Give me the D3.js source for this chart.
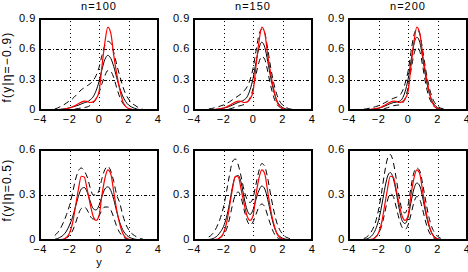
<!DOCTYPE html>
<html lang="en">
    <head>
        <meta charset="UTF-8">
        <style>
            html, body{ margin: 0; padding: 0; background: #fff; }
            svg text{ font-family: 'Liberation Sans', Arial, sans-serif; font-size: 11px; fill: #000; }
            .tick{ letter-spacing: 0.6px; }
            .title{ letter-spacing: 1px; }
            .rowlabel{ font-size: 12px; letter-spacing: 1.2px; }
        </style>
    </head>
    <body>
        <svg id="chart" width="468" height="272"></svg>
        <script src="https://d3js.org/d3.v7.min.js"></script>
        <script>
            // ---- data ----
            const yGrid = [-3, -2.8, -2.6, -2.4, -2.2, -2, -1.8, -1.6, -1.4, -1.2, -1, -0.8, -0.6, -0.4, -0.2, 0,
                           0.2, 0.4, 0.6, 0.8, 1, 1.2, 1.4, 1.6, 1.8, 2, 2.2, 2.4, 2.6, 2.8, 3]
            const sampleSizes = ['n=100', 'n=150', 'n=200']
            const rowLabels = ['f(y|\u03b7=\u22120.9)', 'f(y|\u03b7=0.5)']
            const xTicks = [-4, -2, 0, 2, 4]
            const yTicksTop = [0, 0.3, 0.6, 0.9]
            const yTicksBottom = [0, 0.3, 0.6]

            // true density, eta = -0.9
            const trueTop = [0, 0.002, 0.004, 0.008, 0.013, 0.02, 0.03, 0.045, 0.062, 0.078, 0.088, 0.085, 0.074, 0.08, 0.11, 0.18,
                             0.43, 0.67, 0.82, 0.76, 0.54, 0.36, 0.21, 0.09, 0.036, 0.015, 0.006, 0.003, 0.001, 0, 0]
            // true density, eta = 0.5
            const trueBottom = [0, 0.001, 0.002, 0.006, 0.018, 0.047, 0.11, 0.22, 0.335, 0.425, 0.42, 0.335, 0.24, 0.16, 0.13, 0.16,
                                0.3, 0.41, 0.467, 0.44, 0.32, 0.2, 0.11, 0.047, 0.018, 0.006, 0.002, 0.001, 0, 0, 0]

            // estimates (mean) and pointwise bands, top row
            const meanTop100 = [0.002, 0.004, 0.007, 0.01, 0.015, 0.022, 0.03, 0.038, 0.047, 0.06, 0.072, 0.08, 0.1, 0.13, 0.19, 0.28,
                                0.4, 0.5, 0.54, 0.51, 0.43, 0.32, 0.22, 0.14, 0.085, 0.05, 0.03, 0.017, 0.008, 0.003, 0.001]
            const upperTop100 = [0.01, 0.02, 0.035, 0.05, 0.07, 0.09, 0.11, 0.14, 0.17, 0.2, 0.22, 0.24, 0.26, 0.29, 0.34, 0.42,
                                 0.54, 0.64, 0.68, 0.66, 0.57, 0.45, 0.34, 0.24, 0.16, 0.11, 0.07, 0.05, 0.03, 0.015, 0.005]
            const lowerTop100 = [0, 0, 0, 0.001, 0.002, 0.004, 0.007, 0.01, 0.015, 0.02, 0.025, 0.03, 0.045, 0.07, 0.11, 0.17,
                                 0.26, 0.34, 0.39, 0.38, 0.32, 0.22, 0.13, 0.07, 0.035, 0.015, 0.007, 0.003, 0.001, 0, 0]
            const meanTop150 = [0.001, 0.003, 0.005, 0.008, 0.012, 0.018, 0.025, 0.035, 0.048, 0.062, 0.075, 0.085, 0.1, 0.13, 0.2, 0.31,
                                0.47, 0.61, 0.67, 0.62, 0.48, 0.32, 0.19, 0.1, 0.05, 0.025, 0.012, 0.006, 0.003, 0.001, 0]
            const upperTop150 = [0.01, 0.015, 0.022, 0.03, 0.04, 0.05, 0.065, 0.08, 0.1, 0.12, 0.14, 0.16, 0.19, 0.23, 0.3, 0.41,
                                 0.58, 0.74, 0.8, 0.76, 0.6, 0.42, 0.27, 0.16, 0.09, 0.05, 0.03, 0.015, 0.008, 0.004, 0.002]
            const lowerTop150 = [0, 0, 0, 0, 0.001, 0.002, 0.005, 0.01, 0.018, 0.028, 0.038, 0.045, 0.055, 0.075, 0.12, 0.21,
                                 0.35, 0.47, 0.53, 0.5, 0.38, 0.24, 0.13, 0.06, 0.03, 0.012, 0.005, 0.002, 0.001, 0, 0]
            const meanTop200 = [0.001, 0.002, 0.004, 0.007, 0.011, 0.017, 0.025, 0.037, 0.05, 0.063, 0.073, 0.078, 0.085, 0.11, 0.18, 0.3,
                                0.48, 0.65, 0.72, 0.67, 0.51, 0.33, 0.19, 0.1, 0.05, 0.024, 0.011, 0.005, 0.002, 0.001, 0]
            const upperTop200 = [0.008, 0.012, 0.018, 0.025, 0.033, 0.043, 0.055, 0.07, 0.085, 0.1, 0.115, 0.125, 0.14, 0.18, 0.26, 0.38,
                                 0.57, 0.74, 0.8, 0.75, 0.59, 0.4, 0.25, 0.14, 0.075, 0.04, 0.02, 0.01, 0.005, 0.002, 0.001]
            const lowerTop200 = [0, 0, 0, 0.001, 0.002, 0.004, 0.008, 0.014, 0.022, 0.032, 0.042, 0.047, 0.05, 0.065, 0.11, 0.22,
                                 0.39, 0.55, 0.62, 0.58, 0.43, 0.26, 0.14, 0.07, 0.03, 0.013, 0.005, 0.002, 0.001, 0, 0]

            // bottom row
            const meanBot100 = [0.004, 0.01, 0.02, 0.035, 0.06, 0.1, 0.15, 0.22, 0.29, 0.34, 0.35, 0.32, 0.26, 0.21, 0.2, 0.23,
                                0.29, 0.34, 0.355, 0.33, 0.27, 0.19, 0.12, 0.07, 0.04, 0.022, 0.012, 0.006, 0.003, 0.001, 0]
            const upperBot100 = [0.03, 0.05, 0.08, 0.12, 0.17, 0.23, 0.31, 0.4, 0.46, 0.48, 0.46, 0.42, 0.35, 0.3, 0.3, 0.33,
                                 0.41, 0.47, 0.49, 0.46, 0.39, 0.3, 0.25, 0.17, 0.11, 0.07, 0.045, 0.03, 0.018, 0.01, 0.005]
            const lowerBot100 = [0, 0.001, 0.003, 0.007, 0.015, 0.03, 0.06, 0.11, 0.17, 0.21, 0.22, 0.2, 0.16, 0.14, 0.14, 0.16,
                                 0.2, 0.22, 0.22, 0.2, 0.15, 0.09, 0.05, 0.025, 0.01, 0.004, 0.002, 0.001, 0, 0, 0]
            const meanBot150 = [0.003, 0.007, 0.015, 0.03, 0.055, 0.09, 0.15, 0.24, 0.35, 0.42, 0.43, 0.38, 0.28, 0.2, 0.17, 0.2,
                                0.27, 0.33, 0.36, 0.34, 0.27, 0.18, 0.1, 0.05, 0.025, 0.012, 0.006, 0.003, 0.001, 0, 0]
            const upperBot150 = [0.02, 0.035, 0.06, 0.1, 0.15, 0.22, 0.32, 0.43, 0.52, 0.54, 0.5, 0.42, 0.33, 0.27, 0.25, 0.28,
                                 0.37, 0.46, 0.51, 0.49, 0.41, 0.3, 0.2, 0.12, 0.07, 0.04, 0.022, 0.012, 0.006, 0.003, 0.001]
            const lowerBot150 = [0, 0.001, 0.003, 0.008, 0.018, 0.035, 0.07, 0.14, 0.23, 0.3, 0.32, 0.28, 0.2, 0.13, 0.1, 0.12,
                                 0.17, 0.22, 0.24, 0.22, 0.16, 0.1, 0.05, 0.02, 0.008, 0.003, 0.001, 0, 0, 0, 0]
            const meanBot200 = [0.003, 0.007, 0.016, 0.035, 0.07, 0.13, 0.22, 0.33, 0.42, 0.45, 0.41, 0.32, 0.21, 0.13, 0.11, 0.15,
                                0.25, 0.34, 0.38, 0.36, 0.28, 0.18, 0.1, 0.05, 0.022, 0.009, 0.004, 0.002, 0.001, 0, 0]
            const upperBot200 = [0.01, 0.02, 0.04, 0.07, 0.12, 0.2, 0.31, 0.44, 0.54, 0.57, 0.52, 0.41, 0.29, 0.2, 0.18, 0.23,
                                 0.35, 0.45, 0.48, 0.46, 0.37, 0.26, 0.16, 0.09, 0.05, 0.025, 0.012, 0.006, 0.003, 0.001, 0]
            const lowerBot200 = [0, 0.001, 0.003, 0.008, 0.02, 0.045, 0.09, 0.17, 0.26, 0.31, 0.29, 0.22, 0.14, 0.085, 0.07, 0.1,
                                 0.17, 0.25, 0.29, 0.27, 0.2, 0.12, 0.06, 0.025, 0.01, 0.004, 0.001, 0, 0, 0, 0]

            // ---- layout ----
            const colLeft = [40, 194, 349]
            const colWidth = 118
            const rowTop = [19, 150]
            const rowHeight = [91, 90]
            const labelCenter = [67, 190]

            const rows = [
                { label: rowLabels[0], yMax: 0.9, ticks: yTicksTop, truth: trueTop,
                  panels: [[meanTop100, upperTop100, lowerTop100], [meanTop150, upperTop150, lowerTop150], [meanTop200, upperTop200, lowerTop200]] },
                { label: rowLabels[1], yMax: 0.6, ticks: yTicksBottom, truth: trueBottom,
                  panels: [[meanBot100, upperBot100, lowerBot100], [meanBot150, upperBot150, lowerBot150], [meanBot200, upperBot200, lowerBot200]] }
            ]

            const svg = d3.select('#chart')
            const defs = svg.append('defs')

            rows.forEach((row, r) => {
                sampleSizes.forEach((title, c) => {
                    const x = d3.scaleLinear().domain([-4, 4]).range([colLeft[c], colLeft[c] + colWidth])
                    const y = d3.scaleLinear().domain([0, row.yMax]).range([rowTop[r] + rowHeight[r], rowTop[r]])
                    const g = svg.append('g')
                    const clipId = 'clip-' + r + '-' + c
                    defs.append('clipPath').attr('id', clipId).append('rect')
                        .attr('x', x(-4)).attr('y', y(row.yMax))
                        .attr('width', x(4) - x(-4)).attr('height', y(0) - y(row.yMax))

                    // grid
                    g.selectAll('.vgrid').data(xTicks.slice(1, -1)).join('line')
                        .attr('x1', d => Math.round(x(d)) + 0.5).attr('x2', d => Math.round(x(d)) + 0.5)
                        .attr('y1', y(0)).attr('y2', y(row.yMax))
                        .attr('stroke', '#000').attr('stroke-width', 1).attr('stroke-dasharray', '1,3')
                    g.selectAll('.hgrid').data(row.ticks.slice(1, -1)).join('line')
                        .attr('x1', x(-4)).attr('x2', x(4))
                        .attr('y1', d => Math.round(y(d)) + 0.5).attr('y2', d => Math.round(y(d)) + 0.5)
                        .attr('stroke', '#000').attr('stroke-width', 1).attr('stroke-dasharray', '3,2,1,2')

                    // curves
                    const line = d3.line()
                        .x((d, i) => x(yGrid[i]))
                        .y(d => y(d))
                        .curve(d3.curveMonotoneX)
                    const curves = g.append('g').attr('clip-path', 'url(#' + clipId + ')')
                    const [mean, upper, lower] = row.panels[c]
                    curves.append('path').attr('d', line(upper))
                        .attr('fill', 'none').attr('stroke', '#000').attr('stroke-width', 1).attr('stroke-dasharray', '6,4')
                    curves.append('path').attr('d', line(lower))
                        .attr('fill', 'none').attr('stroke', '#000').attr('stroke-width', 1).attr('stroke-dasharray', '6,4')
                    curves.append('path').attr('d', line(mean))
                        .attr('fill', 'none').attr('stroke', '#000').attr('stroke-width', 1)
                    curves.append('path').attr('d', line(row.truth))
                        .attr('fill', 'none').attr('stroke', '#f00').attr('stroke-width', 1.2)

                    // box
                    g.append('rect')
                        .attr('x', x(-4)).attr('y', y(row.yMax))
                        .attr('width', x(4) - x(-4)).attr('height', y(0) - y(row.yMax))
                        .attr('fill', 'none').attr('stroke', '#000').attr('stroke-width', 2)

                    // tick labels
                    g.selectAll('.xt').data(xTicks).join('text')
                        .attr('class', 'tick')
                        .attr('x', d => x(d)).attr('y', y(0) + 13)
                        .attr('text-anchor', 'middle')
                        .text(d => d < 0 ? '\u2212' + Math.abs(d) : d)
                    g.selectAll('.yt').data(row.ticks).join('text')
                        .attr('class', 'tick')
                        .attr('x', x(-4) - 4).attr('y', d => y(d) + 3)
                        .attr('text-anchor', 'end')
                        .text(d => d)

                    if (r === 0) {
                        g.append('text').attr('class', 'title')
                            .attr('x', (x(-4) + x(4)) / 2).attr('y', 10)
                            .attr('text-anchor', 'middle').text(title)
                    }
                    if (c === 0) {
                        g.append('text').attr('class', 'rowlabel')
                            .attr('transform', 'translate(11,' + labelCenter[r] + ') rotate(-90)')
                            .attr('text-anchor', 'middle').text(row.label)
                    }
                    if (r === 1 && c === 0) {
                        g.append('text').attr('x', (x(-4) + x(4)) / 2).attr('y', 266)
                            .attr('text-anchor', 'middle').text('y')
                    }
                })
            })
        </script>
    </body>
</html>
